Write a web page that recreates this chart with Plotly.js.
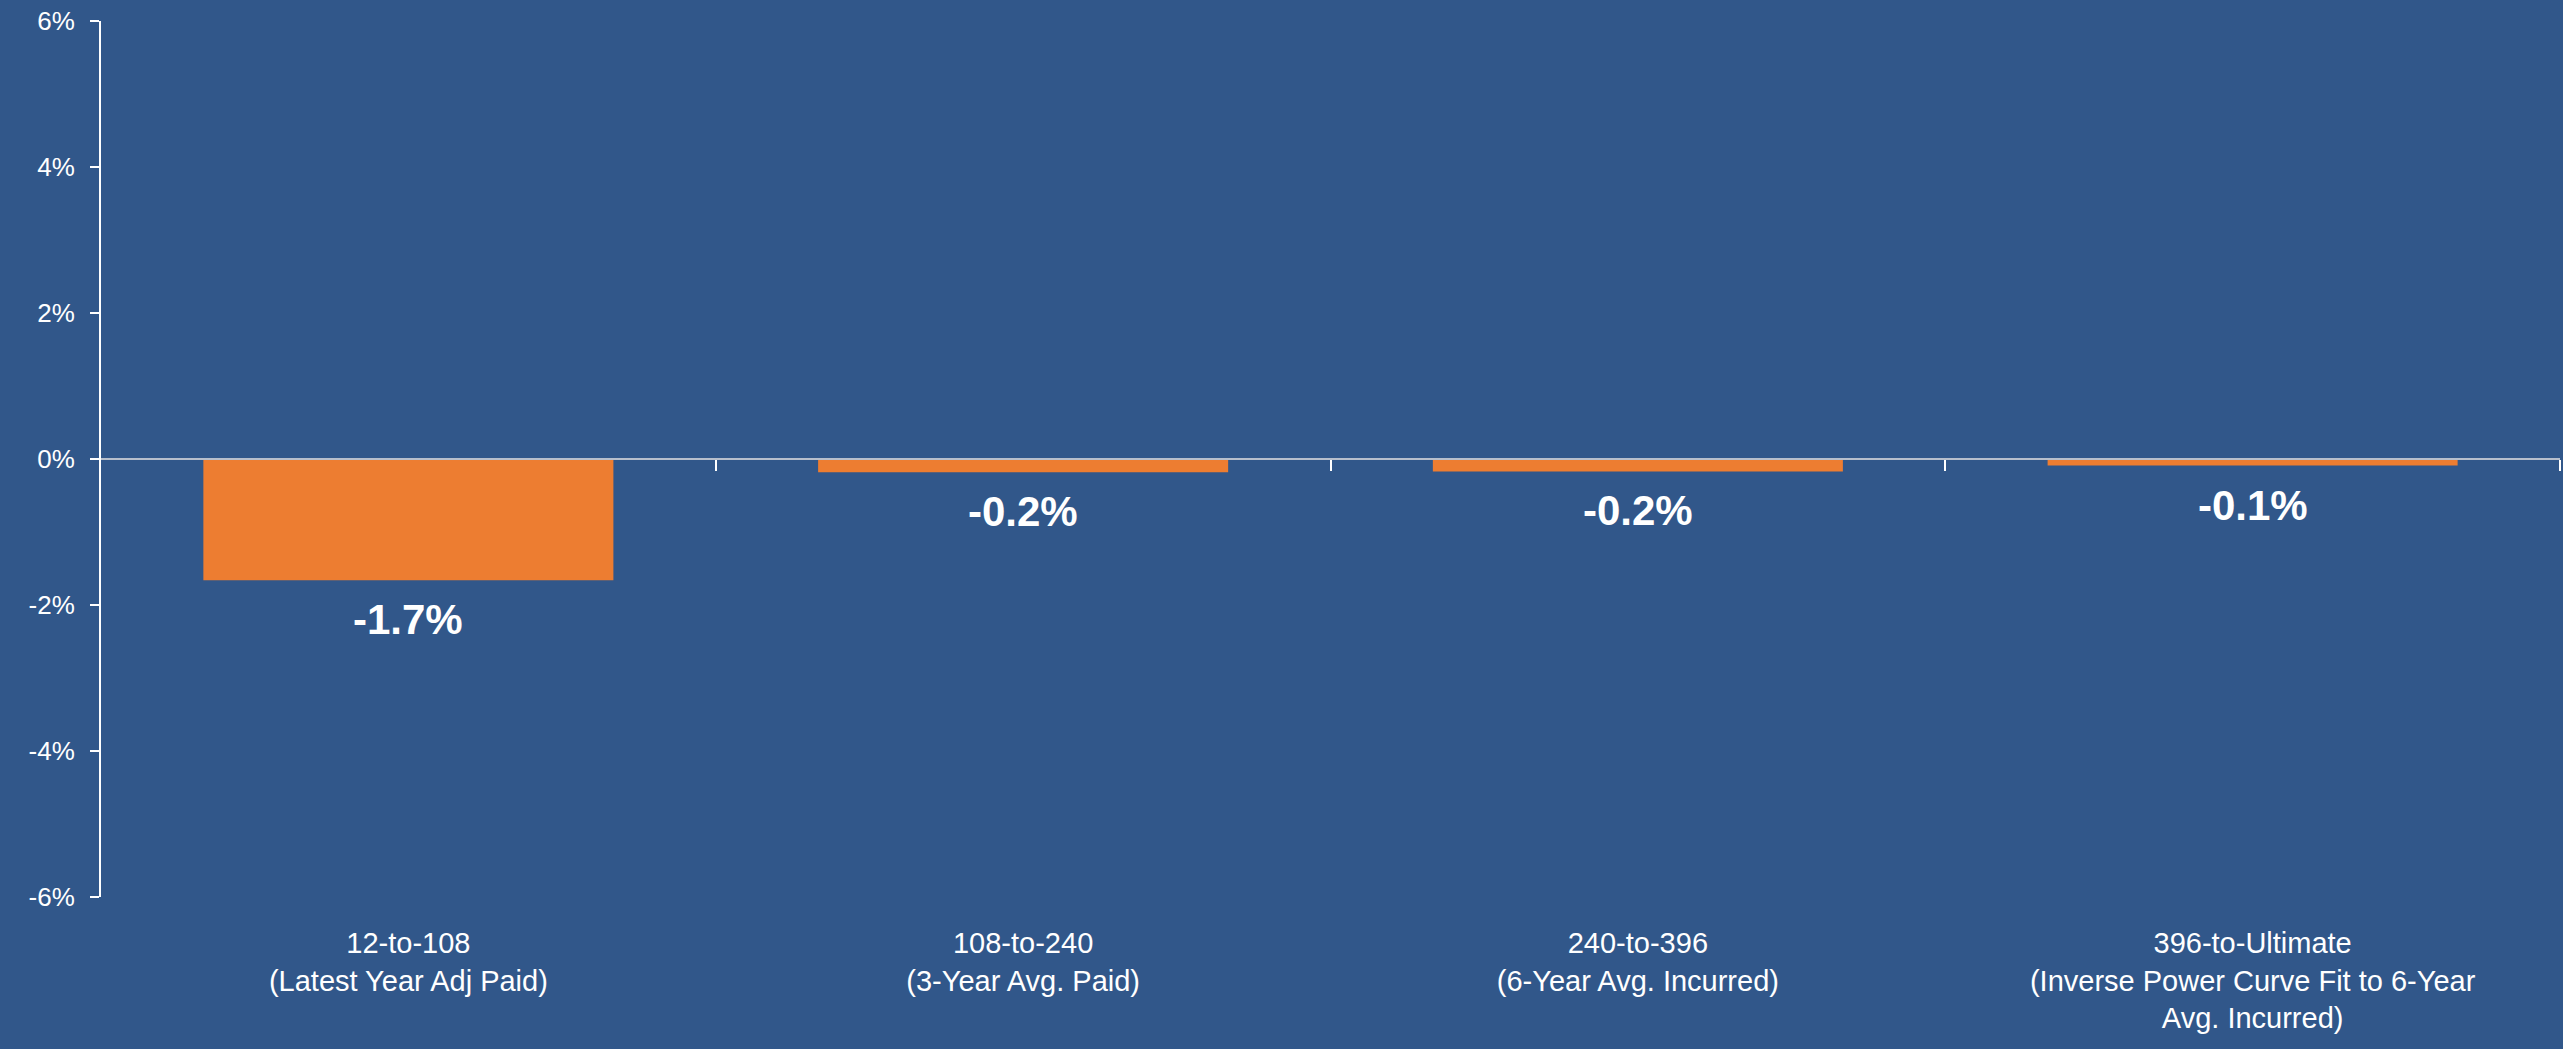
<!DOCTYPE html>
<html>
<head>
<meta charset="utf-8">
<script src="https://cdn.plot.ly/plotly-3.0.1.min.js"></script>
<style>
html,body{margin:0;padding:0;background:#31578a;}
#chart{width:2563px;height:1049px;}
</style>
</head>
<body>
<div id="chart"></div>
<script>
const categories = [
  "12-to-108<br>(Latest Year Adj Paid)",
  "108-to-240<br>(3-Year Avg. Paid)",
  "240-to-396<br>(6-Year Avg. Incurred)",
  "396-to-Ultimate<br>(Inverse Power Curve Fit to 6-Year<br>Avg. Incurred)"
];
const values = [-1.66, -0.18, -0.17, -0.09];
const valueLabels = ["-1.7%", "-0.2%", "-0.2%", "-0.1%"];
const yTickVals = [-6, -4, -2, 0, 2, 4, 6];
const yTickText = ["-6%", "-4%", "-2%", "0%", "2%", "4%", "6%"];
const boundaryTicks = [0.5, 1.5, 2.5, 3.5];

const FONT = "Arial, 'Liberation Sans', sans-serif";
const BG = "#31578a";

const bars = {
  type: "bar",
  x: categories,
  y: values,
  marker: {color: "#ed7d31", line: {width: 0}},
  hoverinfo: "skip",
  showlegend: false
};

// helper trace so that the boundary-tick axis (x2) is drawn
const boundaryAxisTrace = {
  type: "scatter", mode: "markers",
  x: boundaryTicks, y: boundaryTicks.map(() => null),
  xaxis: "x2", yaxis: "y",
  hoverinfo: "skip", showlegend: false
};

const annotations = categories.map((c, i) => ({
  x: c, y: values[i], xref: "x", yref: "y",
  text: valueLabels[i], showarrow: false,
  yanchor: "top", yshift: -14,
  font: {family: FONT, size: 42, color: "#ffffff", weight: "bold"}
}));

const layout = {
  width: 2563, height: 1049,
  paper_bgcolor: BG, plot_bgcolor: BG,
  margin: {l: 101, r: 3, t: 21, b: 152},
  bargap: 0.333,
  font: {family: FONT, color: "#ffffff"},
  xaxis: {
    type: "category",
    showgrid: false, zeroline: false, showline: false,
    ticks: "", ticklabelstandoff: 26,
    tickfont: {family: FONT, size: 29, color: "#ffffff"},
    fixedrange: true
  },
  xaxis2: {
    overlaying: "x", anchor: "free", position: 0.5,
    type: "linear", range: [-0.5, 3.5],
    tickmode: "array", tickvals: boundaryTicks,
    ticks: "outside", ticklen: 11, tickwidth: 2, tickcolor: "#ffffff",
    showticklabels: false, showgrid: false, zeroline: false,
    showline: true, linecolor: "#b7bfcc", linewidth: 2,
    layer: "above traces", fixedrange: true
  },
  yaxis: {
    range: [-6, 6],
    tickmode: "array", tickvals: yTickVals, ticktext: yTickText,
    ticks: "outside", ticklen: 9, tickwidth: 2, tickcolor: "#ffffff",
    showline: true, linecolor: "#ffffff", linewidth: 2,
    showgrid: false, zeroline: false, ticklabelstandoff: 10,
    tickfont: {family: FONT, size: 26, color: "#ffffff"},
    fixedrange: true
  },
  annotations: annotations
};

Plotly.newPlot("chart", [bars, boundaryAxisTrace], layout, {displayModeBar: false, staticPlot: true});
</script>
</body>
</html>
